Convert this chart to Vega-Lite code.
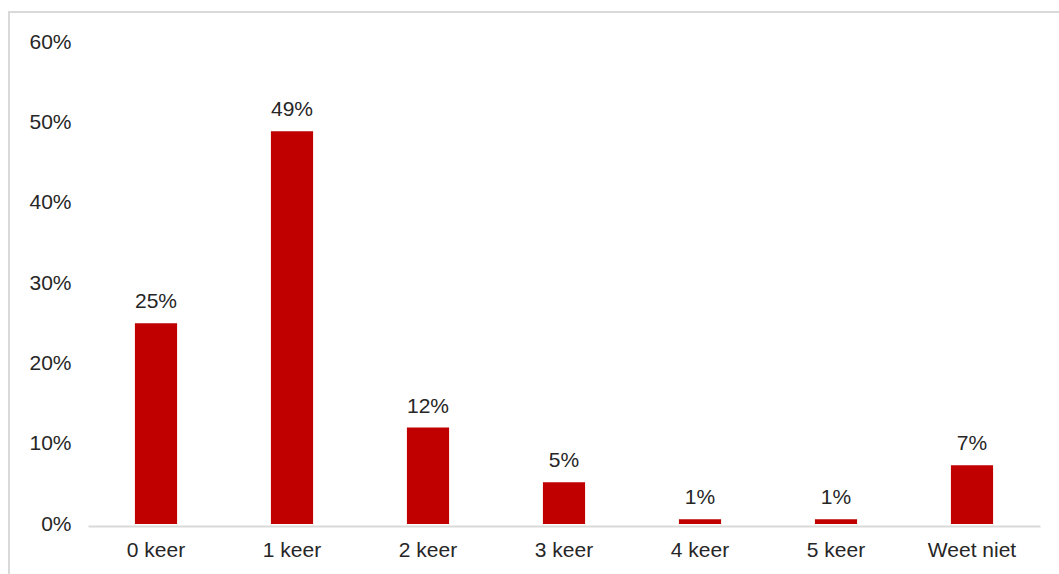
{
  "$schema": "https://vega.github.io/schema/vega-lite/v6.json",
  "autosize": {"type": "none"},
  "padding": {"left": 9, "top": 12, "right": 0, "bottom": 0},
  "width": 1062,
  "height": 572,
  "background": "white",
  "config": {
    "view": {"stroke": "#d9d9d9", "strokeWidth": 2},
    "font": "Liberation Sans",
    "axis": {"labelFont": "Liberation Sans", "labelColor": "#262626", "labelFontSize": 21, "grid": false, "ticks": false, "title": null}
  },
  "data": {
    "values": [
      {"category": "0 keer", "value": 0.250, "label": "25%"},
      {"category": "1 keer", "value": 0.489, "label": "49%"},
      {"category": "2 keer", "value": 0.120, "label": "12%"},
      {"category": "3 keer", "value": 0.052, "label": "5%"},
      {"category": "4 keer", "value": 0.006, "label": "1%"},
      {"category": "5 keer", "value": 0.006, "label": "1%"},
      {"category": "Weet niet", "value": 0.073, "label": "7%"}
    ]
  },
  "encoding": {
    "x": {
      "field": "category", "type": "nominal", "sort": null,
      "scale": {"range": [79, 1031], "paddingInner": 0.69, "paddingOuter": 0.345},
      "axis": {"labelAngle": 0, "domainColor": "#d9d9d9", "domainWidth": 2, "offset": -58, "labelPadding": 13}
    },
    "y": {
      "field": "value", "type": "quantitative",
      "scale": {"domain": [0, 0.6], "range": [512, 30], "nice": false},
      "axis": {"format": ".0%", "values": [0, 0.1, 0.2, 0.3, 0.4, 0.5, 0.6], "domain": false, "offset": -79, "labelPadding": 17}
    }
  },
  "layer": [
    {"mark": {"type": "bar", "color": "#c00000"}},
    {"mark": {"type": "text", "baseline": "bottom", "dy": -11, "fontSize": 21, "color": "#262626", "font": "Liberation Sans"},
     "encoding": {"text": {"field": "label"}}}
  ]
}
